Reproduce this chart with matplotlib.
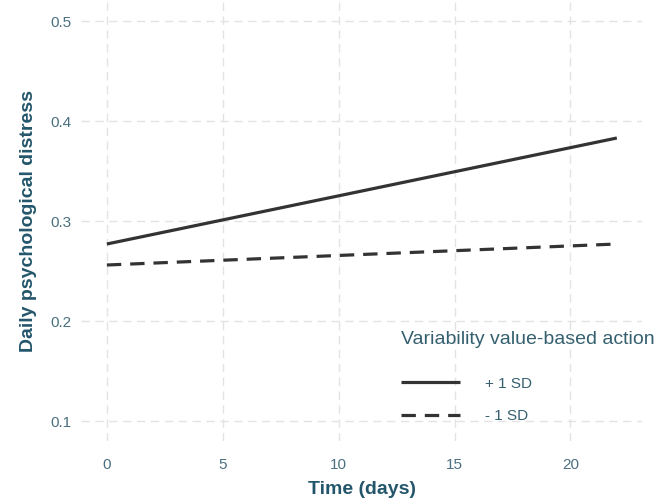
import matplotlib
matplotlib.use("Agg")
import matplotlib.pyplot as plt

plt.rcParams['font.family'] = ['Liberation Sans', 'DejaVu Sans']

# Data
days = [0, 22]
plus_sd = [0.277, 0.383]
minus_sd = [0.256, 0.277]
series_labels = ["+ 1 SD", "- 1 SD"]
x_ticks = [0, 5, 10, 15, 20]
y_ticks = [0.1, 0.2, 0.3, 0.4, 0.5]

title_color = "#24566b"
tick_color = "#4a6f80"
legend_color = "#35606f"
line_color = "#333333"

fig = plt.figure(figsize=(6.67, 5.04), dpi=100)
ax = fig.add_axes([0.122, 0.125, 0.841, 0.873])

ax.plot(days, plus_sd, color=line_color, lw=2.3, solid_capstyle='butt', label=series_labels[0])
ax.plot(days, minus_sd, color=line_color, lw=2.3, dashes=(4.5, 2.8), dash_capstyle='butt',
        label=series_labels[1])

ax.set_xlim(-1.1, 23.1)
ax.set_ylim(0.08, 0.52)
ax.set_xticks(x_ticks)
ax.set_yticks(y_ticks)
ax.set_yticklabels([f"{v:.1f}" for v in y_ticks])

for s in ax.spines.values():
    s.set_visible(False)
ax.tick_params(length=0, labelsize=11, colors=tick_color)
ax.tick_params(axis='y', pad=7)
ax.tick_params(axis='x', pad=12)
ax.grid(True, color="#e3e3e3", lw=1.0, dashes=(6, 4))
ax.set_axisbelow(True)

ax.set_xlabel("Time (days)", fontsize=14, fontweight='bold', color=title_color, labelpad=7)
ax.set_ylabel("Daily psychological distress", fontsize=14, fontweight='bold', color=title_color, labelpad=10)

leg = ax.legend(title="Variability value-based action", loc='upper left',
                bbox_to_anchor=(0.545, 0.282), frameon=False, fontsize=11,
                title_fontsize=14, handlelength=3.9, handletextpad=1.6,
                labelspacing=1.2, alignment='left')
for t in leg.get_texts():
    t.set_color(legend_color)
leg.get_title().set_color(legend_color)
leg._legend_box.sep = 21

fig.savefig("out.png", dpi=100, facecolor="white")
